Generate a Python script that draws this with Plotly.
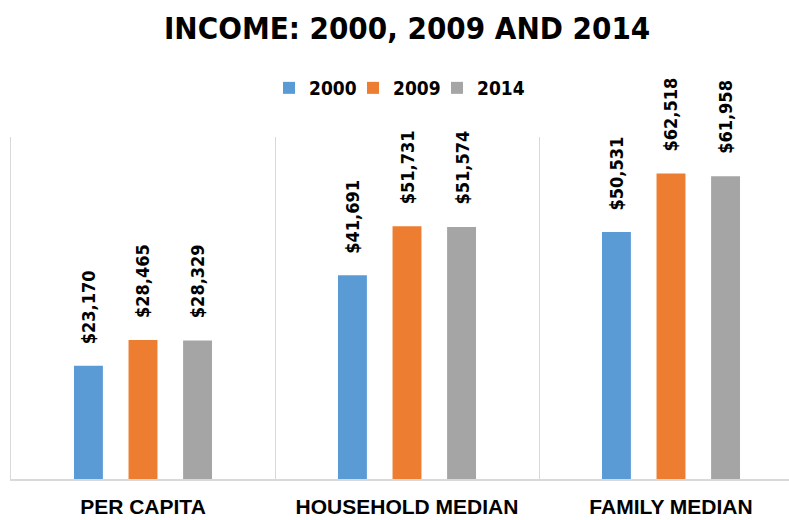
import plotly.graph_objects as go

categories = ["PER CAPITA", "HOUSEHOLD MEDIAN", "FAMILY MEDIAN"]
years = ["2000", "2009", "2014"]
values_2000 = [23170, 41691, 50531]
values_2009 = [28465, 51731, 62518]
values_2014 = [28329, 51574, 61958]
series = [values_2000, values_2009, values_2014]
colors = ["#5B9BD5", "#ED7D31", "#A5A5A5"]

NARROW = "DejaVu Sans Condensed, Liberation Sans Narrow, Arial Narrow, sans-serif"
WIDE = "Liberation Sans, Arial, sans-serif"

bargap = 0.38
bargroupgap = 0.47
slot = (1 - bargap) / len(years)

# legend entry placement (square centres, px from the left)
legend_px = [294, 378, 462]
legend_ids = ["legend", "legend2", "legend3"]

fig = go.Figure()
annotations = []
for i, (yr, vals, col) in enumerate(zip(years, series, colors)):
    fig.add_trace(go.Bar(
        name=yr, x=categories, y=vals, marker=dict(color=col, line=dict(width=0)),
        hoverinfo="skip", legend=legend_ids[i],
    ))
    for ci, v in enumerate(vals):
        annotations.append(dict(
            x=ci + (i - 1) * slot, y=v, xref="x", yref="y",
            text="${:,}".format(v), textangle=-90, showarrow=False,
            xanchor="center", yanchor="bottom", yshift=20,
            font=dict(family=NARROW, size=18, color="#000000", weight="bold"),
        ))

legend_common = dict(
    orientation="h", xref="container", xanchor="left",
    y=1 - 88 / 520, yref="container", yanchor="middle",
    font=dict(family=NARROW, size=19, color="#000000", weight="bold"),
    itemclick=False, bgcolor="rgba(0,0,0,0)",
)

fig.update_layout(
    width=789, height=520,
    barmode="group", bargap=bargap, bargroupgap=bargroupgap,
    paper_bgcolor="white", plot_bgcolor="white",
    margin=dict(l=11, r=0, t=137, b=41, autoexpand=False),
    title=dict(
        text="INCOME: 2000, 2009 AND 2014",
        x=0.516, xref="container", xanchor="center",
        y=1 - 28 / 520, yref="container", yanchor="middle",
        font=dict(family=NARROW, size=31, color="#000000", weight="bold"),
    ),
    legend=dict(x=(legend_px[0] - 25) / 789, **legend_common),
    legend2=dict(x=(legend_px[1] - 25) / 789, **legend_common),
    legend3=dict(x=(legend_px[2] - 25) / 789, **legend_common),
    xaxis=dict(
        type="category", range=[-0.5, -0.5 + 778 / 264], automargin=False,
        showgrid=True, tickson="boundaries", gridcolor="#D9D9D9", gridwidth=1,
        showline=True, linecolor="#D9D9D9", linewidth=1.5,
        ticks="", ticklabelstandoff=8,
        tickfont=dict(family=WIDE, size=21, color="#000000", weight="bold"),
        fixedrange=True,
    ),
    yaxis=dict(
        range=[0, 70000], visible=True, showticklabels=False, ticks="",
        showgrid=False, zeroline=False,
        showline=True, linecolor="#D9D9D9", linewidth=1,
        fixedrange=True, automargin=False,
    ),
    annotations=annotations,
    showlegend=True,
)

fig.write_html(
    "out.html",
    config={"displayModeBar": False},
    post_script="document.body.style.margin='0';document.body.style.padding='0';",
)
